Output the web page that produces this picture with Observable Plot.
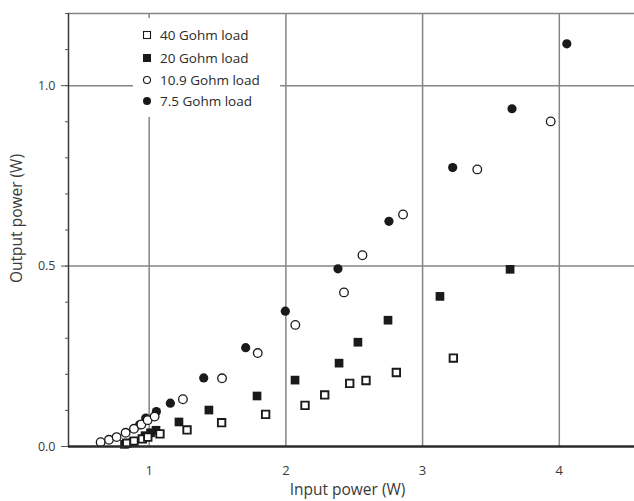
<!DOCTYPE html>
<html>
<head>
<meta charset="utf-8">
<script src="https://cdn.jsdelivr.net/npm/d3@7"></script>
<script src="https://cdn.jsdelivr.net/npm/@observablehq/plot@0.6"></script>
<style>
  body { margin: 0; background: #fff; }
  #chart svg { display: block; }
</style>
</head>
<body>
<div id="chart"></div>
<script>
// Output power versus input power for four load resistances.
const in40  = [0.836, 0.889, 0.950, 0.990, 1.079, 1.277, 1.530, 1.852, 2.140, 2.284, 2.467, 2.586, 2.808, 3.225];
const out40 = [0.009, 0.015, 0.021, 0.026, 0.035, 0.046, 0.066, 0.089, 0.114, 0.143, 0.175, 0.183, 0.205, 0.245];

const in20  = [0.82, 0.88, 0.97, 1.01, 1.05, 1.218, 1.437, 1.789, 2.067, 2.389, 2.527, 2.747, 3.127, 3.640];
const out20 = [0.006, 0.011, 0.030, 0.038, 0.045, 0.068, 0.101, 0.140, 0.184, 0.231, 0.289, 0.350, 0.416, 0.491];

const in109  = [0.645, 0.706, 0.762, 0.828, 0.889, 0.943, 0.989, 1.040, 1.247, 1.533, 1.794, 2.069, 2.425, 2.560, 2.857, 3.400, 3.937];
const out109 = [0.012, 0.0185, 0.026, 0.038, 0.049, 0.061, 0.073, 0.083, 0.131, 0.189, 0.259, 0.337, 0.427, 0.530, 0.643, 0.768, 0.901];

const in75  = [0.93, 0.975, 1.053, 1.155, 1.399, 1.706, 1.996, 2.381, 2.754, 3.220, 3.654, 4.055];
const out75 = [0.060, 0.079, 0.097, 0.120, 0.190, 0.274, 0.375, 0.4925, 0.624, 0.773, 0.936, 1.116];

const seriesNames = ["40 Gohm load", "20 Gohm load", "10.9 Gohm load", "7.5 Gohm load"];
const xTicks = [1, 2, 3, 4];
const yMajor = [0, 0.5, 1.0];
const yMinor = d3.range(0, 13).map(i => i / 10);
const xDomain = [0.41, 4.55];
const yDomain = [0, 1.2];

const pairs = (xs, ys) => xs.map((x, i) => ({x, y: ys[i]}));
const d40 = pairs(in40, out40);
const d20 = pairs(in20, out20);
const d109 = pairs(in109, out109);
const d75 = pairs(in75, out75);

const ink = "#1a1a1a";
const gridColor = "#858585";
const font = "'Open Sans', 'Noto Sans', sans-serif";

const chart = Plot.plot({
  width: 634,
  height: 501,
  marginLeft: 68,
  marginRight: 0,
  marginTop: 13,
  marginBottom: 55,
  style: {fontFamily: font, fontSize: "12.5px", color: "#3a3a3a", background: "#fff", overflow: "visible"},
  x: {domain: xDomain},
  y: {domain: yDomain},
  marks: [
    // grid and frame
    Plot.ruleX(xTicks, {stroke: gridColor, strokeWidth: 1.5}),
    Plot.ruleY([0.5, 1.0, yDomain[1]], {stroke: gridColor, strokeWidth: 1.5}),
    Plot.ruleX([xDomain[0]], {stroke: "#3a3a3a", strokeWidth: 1.5}),
    // axes
    Plot.axisY({ticks: yMinor, tickSize: 3, tickFormat: () => "", label: null, stroke: "#555"}),
    Plot.axisY({ticks: yMajor, tickSize: 7, tickPadding: 6, tickFormat: d3.format(".1f"), label: null, stroke: "#555"}),
    Plot.axisX({ticks: xTicks, tickSize: 0, tickPadding: 19, tickFormat: d3.format("d"), label: null, fontSize: 13}),
    Plot.text(["Input power (W)"], {frameAnchor: "bottom", dy: 48, dx: -4, fontSize: 15.5, fill: "#3a3a3a"}),
    Plot.text(["Output power (W)"], {frameAnchor: "left", textAnchor: "middle", dx: -51, dy: -11.5, rotate: -90, fontSize: 15.5, fill: "#3a3a3a"}),
    // data
    Plot.dot(d20, {x: "x", y: "y", symbol: "square", r: 4.9, fill: ink, stroke: "none"}),
    Plot.dot(d40, {x: "x", y: "y", symbol: "square", r: 4.2, fill: "#fff", stroke: ink, strokeWidth: 1.9}),
    Plot.dot(d75, {x: "x", y: "y", r: 4.6, fill: ink, stroke: "none"}),
    Plot.dot(d109, {x: "x", y: "y", r: 4.3, fill: "#fff", stroke: ink, strokeWidth: 1.3}),
    Plot.ruleY([0], {stroke: "#2a2a2a", strokeWidth: 2.5})
  ]
});

document.getElementById("chart").append(chart);

// legend box in the upper-left corner of the plot, drawn over the grid
const lg = d3.select(chart).append("g")
  .attr("transform", "translate(133,18)")
  .attr("text-anchor", "start");
lg.append("rect")
  .attr("x", 0).attr("y", 0).attr("width", 147).attr("height", 99)
  .attr("fill", "#ffffff").style("fill", "#ffffff").attr("stroke", "none");
const rows = [17, 40, 62, 83];
const mx = 14, tx = 27;
seriesNames.forEach((name, i) => {
  const g = lg.append("g").attr("transform", `translate(0,${rows[i]})`);
  if (i === 0) g.append("rect").attr("x", mx - 3.5).attr("y", -3.5).attr("width", 7).attr("height", 7)
    .attr("fill", "#fff").attr("stroke", ink).attr("stroke-width", 1.1);
  if (i === 1) g.append("rect").attr("x", mx - 4).attr("y", -4).attr("width", 8).attr("height", 8)
    .attr("fill", ink).attr("stroke", "none");
  if (i === 2) g.append("circle").attr("cx", mx).attr("cy", 0).attr("r", 3.5)
    .attr("fill", "#fff").attr("stroke", ink).attr("stroke-width", 1.1);
  if (i === 3) g.append("circle").attr("cx", mx).attr("cy", 0).attr("r", 4)
    .attr("fill", ink).attr("stroke", "none");
  g.append("text").attr("x", tx).attr("y", 0).attr("dy", "0.35em")
    .attr("text-anchor", "start").attr("font-family", font).attr("font-size", 13.5)
    .attr("fill", "#2a2a2a").attr("stroke", "none").text(name);
});
</script>
</body>
</html>
